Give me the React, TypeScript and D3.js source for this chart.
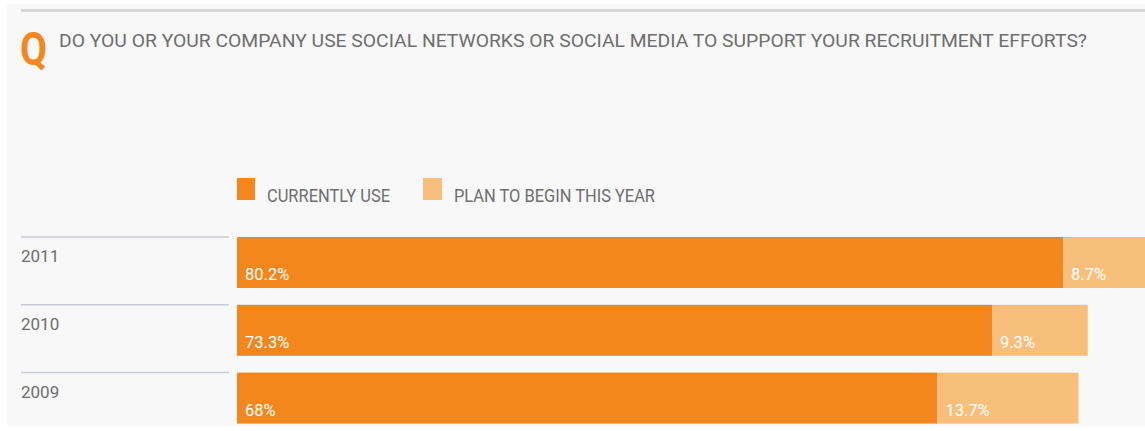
import React from "react";
import * as d3 from "d3";

const years = ["2011", "2010", "2009"];
const currentlyUse = [80.2, 73.3, 68];
const planToBegin = [8.7, 9.3, 13.7];
const currentLabels = ["80.2%", "73.3%", "68%"];
const planLabels = ["8.7%", "9.3%", "13.7%"];
const legendItems = ["CURRENTLY USE", "PLAN TO BEGIN THIS YEAR"];
const title = "DO YOU OR YOUR COMPANY USE SOCIAL NETWORKS OR SOCIAL MEDIA TO SUPPORT YOUR RECRUITMENT EFFORTS?";

const W = 1145;
const H = 431;
const ORANGE = "#f4861e";
const LIGHT = "#f8bf7c";
const TEXT = "#6e6e6e";

export default function App() {
  const x = d3.scaleLinear().domain([0, 100]).range([237, 1267]);
  const y = d3.scaleBand().domain(years).range([237, 423.6]).paddingInner(0.248).paddingOuter(0);
  const bh = y.bandwidth();
  const font = "Roboto, 'Noto Sans', sans-serif";

  return (
    <svg
      width={W}
      height={H}
      style={{ position: "absolute", left: 0, top: 0 }}
      xmlns="http://www.w3.org/2000/svg"
    >
      <rect x={0} y={0} width={W} height={H} fill="#ffffff" />
      <rect x={7} y={4} width={W - 7} height={422} fill="#f8f8f8" />
      <line x1={21} x2={W} y1={10.5} y2={10.5} stroke="#d2d2d2" strokeWidth={2.5} />
      <text
        x={20}
        y={65}
        fontFamily={font}
        fontWeight={700}
        fontSize={46}
        fill={ORANGE}
        textLength={27}
        lengthAdjust="spacingAndGlyphs"
      >
        Q
      </text>
      <text
        x={59}
        y={47}
        fontFamily={font}
        fontSize={19}
        fill={TEXT}
        textLength={1028}
        lengthAdjust="spacingAndGlyphs"
      >
        {title}
      </text>

      {/* legend */}
      <rect x={237} y={178} width={18} height={22} fill={ORANGE} />
      <text
        x={267}
        y={202}
        fontFamily={font}
        fontSize={18}
        fill={TEXT}
        textLength={123}
        lengthAdjust="spacingAndGlyphs"
      >
        {legendItems[0]}
      </text>
      <rect x={423} y={178} width={19} height={22} fill={LIGHT} />
      <text
        x={454}
        y={202}
        fontFamily={font}
        fontSize={18}
        fill={TEXT}
        textLength={201}
        lengthAdjust="spacingAndGlyphs"
      >
        {legendItems[1]}
      </text>

      {years.map((yr, i) => {
        const top = y(yr) as number;
        const x0 = x(0);
        const x1 = x(currentlyUse[i]);
        const x2 = x(currentlyUse[i] + planToBegin[i]);
        return (
          <g key={yr}>
            <line x1={21} x2={229} y1={top} y2={top} stroke="#c6cad2" strokeWidth={1.5} />
            <text x={21} y={top + 25} fontFamily={font} fontSize={17} fill={TEXT}>
              {yr}
            </text>
            <rect x={x0} y={top} width={x1 - x0} height={bh} fill={ORANGE} />
            <rect x={x1} y={top} width={x2 - x1} height={bh} fill={LIGHT} />
            <text x={x0 + 8} y={top + 43} fontFamily={font} fontSize={16.5} fill="#ffffff">
              {currentLabels[i]}
            </text>
            <text x={x1 + 8} y={top + 43} fontFamily={font} fontSize={16.5} fill="#ffffff">
              {planLabels[i]}
            </text>
          </g>
        );
      })}
    </svg>
  );
}
